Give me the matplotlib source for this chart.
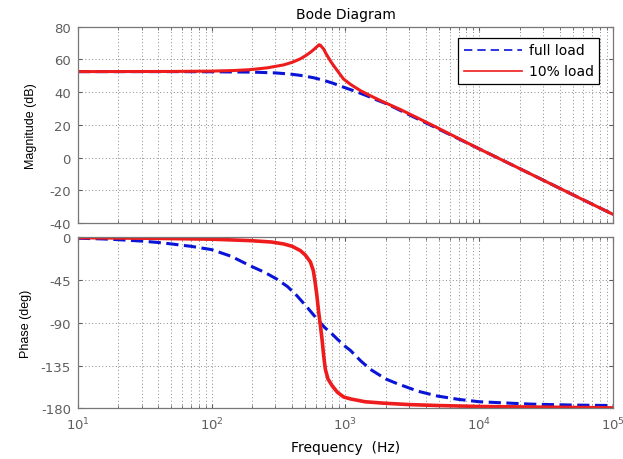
import numpy as np
import matplotlib
matplotlib.use('Agg')
import matplotlib.pyplot as plt
from matplotlib.lines import Line2D

plt.rcParams['font.family'] = ['DejaVu Sans']
plt.rcParams['axes.unicode_minus'] = False

# values
f_full_mag = [10, 20, 50, 100, 200, 300, 387, 460, 575, 686, 800, 967, 1200, 1440, 1700, 2040,
              3000, 5000, 10000, 20000, 50000, 100000]
mag_full = [52.5, 52.5, 52.5, 52.4, 52.2, 51.7, 51.0, 50.2, 48.8, 47.2, 45.5, 43.0, 40.3, 37.8, 35.3, 32.8,
            26.1, 17.3, 5.3, -6.7, -22.7, -34.7]

f_low_mag = [10, 50, 100, 150, 194, 260, 345, 400, 460, 510, 547, 580, 610, 635, 650, 670, 686, 710,
             740, 775, 815, 880, 967, 1100, 1293, 1550, 1825, 2580, 4090, 10000, 20000, 50000, 100000]
mag_low = [52.5, 52.6, 52.8, 53.2, 53.7, 54.8, 56.6, 58.2, 60.3, 62.5, 64.3, 66.0, 67.6, 68.9, 68.6, 67.3, 66.4, 64.0,
           61.5, 58.8, 56.2, 52.5, 48.0, 44.5, 40.9, 37.6, 34.8, 29.3, 21.3, 5.3, -6.7, -22.7, -34.7]

f_full_ph = [10, 15, 20, 30, 40, 50, 70, 100, 140, 194, 250, 307, 370, 434, 520, 613, 700, 772, 867,
             1000, 1089, 1300, 1538, 2000, 2438, 3500, 4864, 7000, 10000, 24300, 50000, 100000]
ph_full = [-1, -1.7, -2.5, -4, -5.5, -7, -9.5, -13, -20, -30, -37, -44, -52, -61.5, -74, -86, -95, -100, -107,
           -115, -119, -130, -139, -149, -154, -162, -167, -170.5, -173, -175.5, -176.5, -177]

f_low_ph = [10, 35, 100, 194, 280, 345, 400, 460, 500, 547, 575, 593, 610, 631, 650, 668, 688, 708,
            740, 794, 870, 970, 1089, 1400, 1927, 3000, 5000, 10000, 100000]
ph_low = [-0.3, -1, -2, -3.5, -5, -7, -9.5, -14, -18.5, -26, -35, -47, -60, -79, -93, -107, -125, -139,
          -149, -156, -163, -168, -170, -173, -174.5, -176, -177, -178, -179.5]

mag_ticks = [-40, -20, 0, 20, 40, 60, 80]
ph_ticks = [-180, -135, -90, -45, 0]

blue = '#0a14d6'
red = '#ee1c1c'
grey = '#5e5e5e'
gridc = '#8a8a8a'

fig = plt.figure(figsize=(6.23, 4.6), dpi=100)
ax1 = fig.add_axes([0.125, 0.513, 0.859, 0.427])
ax2 = fig.add_axes([0.125, 0.110, 0.859, 0.372])

ax1.semilogx(f_full_mag, mag_full, color=blue, lw=2.2, dashes=(4, 1.8))
ax1.semilogx(f_low_mag, mag_low, color=red, lw=2.2)
ax2.semilogx(f_full_ph, ph_full, color=blue, lw=2.2, dashes=(4, 1.8))
ax2.semilogx(f_low_ph, ph_low, color=red, lw=2.6)

for ax in (ax1, ax2):
    ax.set_xlim(10, 1e5)
    ax.grid(True, which='major', color=gridc, lw=0.7, dashes=(1, 2.5))
    ax.grid(True, which='minor', axis='x', color=gridc, lw=0.7, dashes=(1, 2.5))
    ax.tick_params(which='both', direction='in', top=True, right=True,
                   colors=grey, labelsize=9.5, length=3, pad=5)
    ax.tick_params(which='minor', length=2)
    for s in ax.spines.values():
        s.set_color('#777777')
        s.set_linewidth(0.9)

ax1.set_ylim(-40, 80)
ax1.set_yticks(mag_ticks)
ax1.tick_params(labelbottom=False)
ax1.set_ylabel('Magnitude (dB)', fontsize=9, family='Liberation Sans', labelpad=9)
ax1.set_title('Bode Diagram', fontsize=10, pad=6)

ax2.set_ylim(-180, 0)
ax2.set_yticks(ph_ticks)
ax2.set_ylabel('Phase (deg)', fontsize=9, family='Liberation Sans', labelpad=6)
ax2.set_xlabel('Frequency  (Hz)', fontsize=10, labelpad=6)

handles = [Line2D([], [], color=blue, lw=1.2, dashes=(5, 3)),
           Line2D([], [], color=red, lw=1.2)]
leg = ax1.legend(handles, ['full load', '10% load'], loc='upper right',
                 fontsize=10, fancybox=False, framealpha=1, edgecolor='black',
                 handlelength=4.2, handletextpad=0.5, borderaxespad=0.6,
                 bbox_to_anchor=(0.99, 0.985))
leg.get_frame().set_linewidth(0.9)

fig.savefig('out.png', dpi=100)
